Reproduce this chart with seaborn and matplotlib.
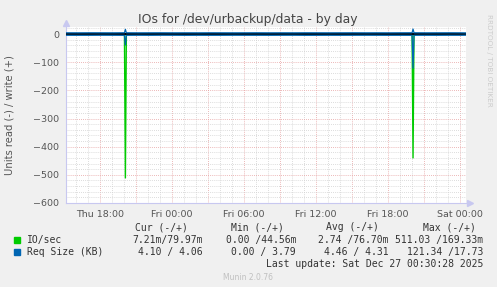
import numpy as np
import pandas as pd
import matplotlib
matplotlib.use("Agg")
import matplotlib.pyplot as plt
import matplotlib.dates as mdates
from matplotlib.ticker import MultipleLocator
import seaborn as sns

sns.set_theme(style="white")
plt.rcParams['font.family'] = ['DejaVu Sans']

# ---------------- data ----------------
start_time = "2025-12-25 15:10"
end_time = "2025-12-27 00:30"

# hours after start
hours = [0, 1, 2, 3, 4, 4.87, 4.95, 5.03, 5.5, 6, 7, 8, 9, 10, 11, 12, 13, 14,
         15, 16, 17, 18, 19, 20, 21, 22, 23, 24, 25, 26, 27, 28, 28.84, 28.92,
         29.0, 29.5, 30, 31, 32, 33, 33.33]
read_ios = [0.01, 0.0, 0.01, 0.0, 0.01, 0.02, 511.03, 0.02, 0.01, 0.0, 0.01, 0.0,
            0.01, 0.0, 0.01, 0.0, 0.01, 0.0, 0.01, 0.0, 0.01, 0.0, 0.01, 0.0,
            0.01, 0.0, 0.01, 0.0, 0.01, 0.0, 0.01, 0.0, 0.02, 440.0, 0.02, 0.01,
            0.0, 0.01, 0.0, 0.01, 0.01]
write_ios = [0.08, 0.07, 0.08, 0.08, 0.07, 0.09, 0.17, 0.09, 0.08, 0.07, 0.08,
             0.08, 0.07, 0.08, 0.08, 0.07, 0.08, 0.08, 0.07, 0.08, 0.08, 0.07,
             0.08, 0.08, 0.07, 0.08, 0.08, 0.07, 0.08, 0.08, 0.07, 0.08, 0.09,
             0.16, 0.09, 0.08, 0.07, 0.08, 0.08, 0.07, 0.08]
read_req = [4.4, 4.5, 4.5, 4.3, 4.4, 4.6, 39.0, 4.5, 4.4, 4.3, 4.5, 4.3, 4.4,
            4.6, 4.4, 4.5, 4.5, 4.3, 4.4, 4.4, 4.5, 4.4, 4.3, 4.6, 4.5, 4.4, 4.5,
            4.4, 4.3, 4.4, 4.5, 4.5, 4.6, 121.34, 4.5, 4.4, 4.4, 4.5, 4.3, 4.4,
            4.1]
write_req = [4.3, 4.2, 4.4, 4.3, 4.2, 4.5, 16.5, 4.4, 4.3, 4.2, 4.3, 4.4, 4.2,
             4.3, 4.2, 4.4, 4.3, 4.2, 4.3, 4.4, 4.2, 4.3, 4.2, 4.4, 4.3, 4.2,
             4.3, 4.4, 4.2, 4.3, 4.2, 4.4, 4.5, 17.73, 4.4, 4.3, 4.2, 4.3, 4.4,
             4.2, 4.06]

y_ticks = [0, -100, -200, -300, -400, -500, -600]

title = "IOs for /dev/urbackup/data - by day"
ylabel = "Units read (-) / write (+)"
legend_headers = ["Cur (-/+)", "Min (-/+)", "Avg (-/+)", "Max (-/+)"]
io_row = ["7.21m/79.97m", "0.00 /44.56m", "2.74 /76.70m", "511.03 /169.33m"]
req_row = ["4.10 / 4.06", "0.00 / 3.79", "4.46 / 4.31", "121.34 /17.73"]
last_update = "Last update: Sat Dec 27 00:30:28 2025"

GREEN = "#00CC00"
BLUE = "#0066B3"

# ---------------- figure ----------------
W, H = 497, 287
fig = plt.figure(figsize=(W / 100, H / 100), dpi=100, facecolor="#F0F0F0")
ax = fig.add_axes([66 / W, (H - 203) / H, 400 / W, (203 - 27) / H])
ax.set_facecolor("white")

t0 = pd.Timestamp(start_time)
times = t0 + pd.to_timedelta(hours, unit="h")
df = pd.DataFrame({
    "time": times,
    "read_ios": -np.array(read_ios),
    "write_ios": np.array(write_ios),
    "read_req": -np.array(read_req),
    "write_req": np.array(write_req),
})

sns.lineplot(data=df, x="time", y="read_ios", color=GREEN, lw=1.0, ax=ax, zorder=3)
sns.lineplot(data=df, x="time", y="write_ios", color=GREEN, lw=1.0, ax=ax, zorder=3)
ax.axhline(0, color="black", lw=1.6, zorder=3.5)
sns.lineplot(data=df, x="time", y="read_req", color=BLUE, lw=0.9, ax=ax, zorder=4)
sns.lineplot(data=df, x="time", y="write_req", color=BLUE, lw=0.9, ax=ax, zorder=4)

ax.set_xlim(pd.Timestamp(start_time), pd.Timestamp(end_time))
ax.set_ylim(-600, 25)
ax.set_xlabel("")
ax.set_ylabel("")

# grid
ax.xaxis.set_major_locator(mdates.HourLocator(byhour=[0, 6, 12, 18]))
ax.xaxis.set_major_formatter(mdates.DateFormatter("%a %H:%M"))
ax.xaxis.set_minor_locator(mdates.HourLocator(interval=1))
ax.yaxis.set_major_locator(matplotlib.ticker.FixedLocator(y_ticks))
ax.yaxis.set_minor_locator(MultipleLocator(20))

ax.grid(False)
grid_minor = dict(color="#D0D0D0", lw=0.6, ls=(0, (1, 1.5)), zorder=1)
grid_major = dict(color="#E6A0A0", lw=0.6, ls=(0, (1, 1.5)), zorder=1)
for h in mdates.HourLocator(interval=1).tick_values(pd.Timestamp(start_time), pd.Timestamp(end_time)):
    d = mdates.num2date(h)
    style = grid_major if d.hour % 3 == 0 else grid_minor
    ax.axvline(h, **style)
for v in range(20, -601, -20):
    style = grid_major if v % 100 == 0 else grid_minor
    ax.axhline(v, **style)

ax.tick_params(axis="both", which="major", length=2, color="#E6A0A0",
               labelsize=6.8, labelcolor="#555555", pad=3)
ax.tick_params(axis="both", which="minor", length=1.5, color="#C8C8C8")

for s in ["top", "right"]:
    ax.spines[s].set_visible(False)
for s in ["left", "bottom"]:
    ax.spines[s].set_color("#C8C8F0")
    ax.spines[s].set_linewidth(0.8)

# axis arrows
ax.plot([0], [1.02], marker="^", color="#C8C8F0", ms=4, transform=ax.transAxes, clip_on=False)
ax.plot([1.01], [0], marker=">", color="#C8C8F0", ms=4, transform=ax.transAxes, clip_on=False)

# texts
fig.text(248 / W, 1 - 19 / H, title, ha="center", va="center", fontsize=8.9, color="#444444")
fig.text(10 / W, 1 - 115 / H, ylabel, rotation=90, ha="center", va="center",
         fontsize=7.2, color="#555555")
fig.text(489 / W, 1 - 60 / H, "RRDTOOL / TOBI OETIKER", rotation=270, ha="center",
         va="center", fontsize=5.2, color="#CCCCCC")

mono = dict(family="DejaVu Sans Mono", fontsize=7, color="#333333", va="center")
header_x = [135, 231, 326, 423]
for x, t in zip(header_x, legend_headers):
    fig.text(x / W, 1 - 227 / H, t, ha="left", **mono)

value_x = [203, 296, 389, 483]
fig.patches.append(plt.Rectangle((14 / W, 1 - 243 / H), 6 / W, 6 / H,
                                 color=GREEN, transform=fig.transFigure, figure=fig))
fig.patches.append(plt.Rectangle((14 / W, 1 - 255 / H), 6 / W, 6 / H,
                                 color=BLUE, transform=fig.transFigure, figure=fig))
fig.text(27 / W, 1 - 240 / H, "IO/sec", ha="left", **mono)
fig.text(27 / W, 1 - 252 / H, "Req Size (KB)", ha="left", **mono)
for x, t in zip(value_x, io_row):
    fig.text(x / W, 1 - 240 / H, t, ha="right", **mono)
for x, t in zip(value_x, req_row):
    fig.text(x / W, 1 - 252 / H, t, ha="right", **mono)
fig.text(483 / W, 1 - 264 / H, last_update, ha="right", **mono)
fig.text(248 / W, 1 - 277 / H, "Munin 2.0.76", ha="center", va="center",
         fontsize=5.5, color="#C0C0C0")

fig.savefig("out.png", dpi=100, facecolor=fig.get_facecolor())
